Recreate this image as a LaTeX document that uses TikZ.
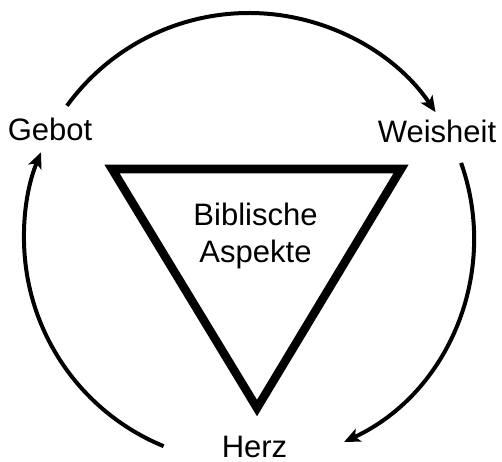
\documentclass[tikz,border=0pt]{standalone}
\usepackage{fontspec}
\setmainfont{Liberation Sans}
\usetikzlibrary{arrows.meta, calc}

\begin{document}
\begin{tikzpicture}[
		x=1pt, y=1pt,
		lbl/.style={font=\fontsize{31}{37}\selectfont, inner sep=0pt},
		tri/.style={draw, line width=8.5pt, miter limit=10},
		arrow/.style={-{Stealth[length=16pt, width=14pt, inset=4pt]}, line width=4pt}
		]
		\useasboundingbox (0,0) rectangle (502,461);
		
		% Nodes
		\node[lbl, anchor=base] (gebot) at (50,320) {Gebot};
		\node[lbl, anchor=base] (weisheit) at (437,318) {Weisheit};
		\node[lbl, anchor=base] (herz) at (254.5,4) {Herz};
		\node[lbl, align=center] (aspekte) at (255.5,225.5) {Biblische\\Aspekte};
		
		% Triangle
		\coordinate (tl) at (112,292);
		\coordinate (tr) at (401,292);
		\coordinate (bt) at (257,53);
		\draw[tri] (tl) -- (tr) -- (bt) -- cycle;
		
		% Arrows
		\coordinate (mid) at (249,223);
		\draw[arrow] ($(mid)+(144:225pt)$) arc[start angle=144, end angle=34, radius=225pt];
		\draw[arrow] ($(mid)+(19.5:225pt)$) arc[start angle=19.5, end angle=-65, radius=225pt];
		\draw[arrow] ($(mid)+(247.7:225pt)$) arc[start angle=247.7, end angle=157.6, radius=225pt];
		
	\end{tikzpicture}
\end{document}
